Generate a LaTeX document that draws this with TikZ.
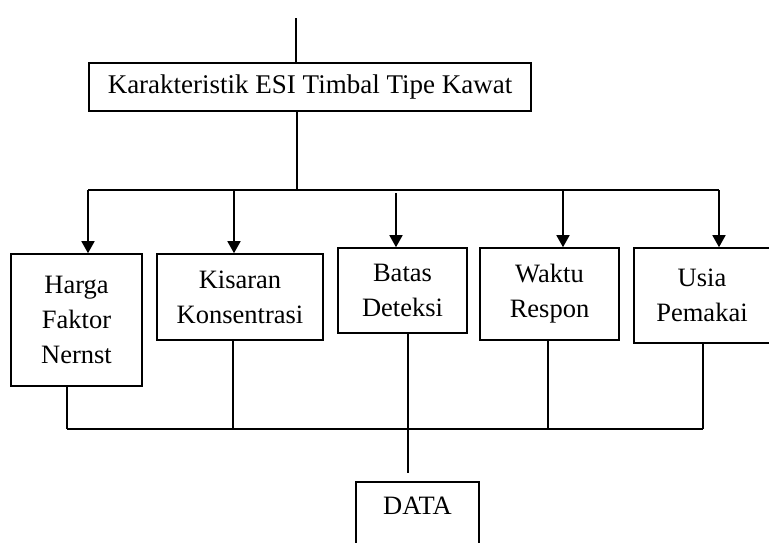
\documentclass[tikz,border=0pt]{standalone}
\usepackage{fontspec}
\setmainfont{Liberation Serif}
\usepackage{tikz}
\usetikzlibrary{arrows.meta, positioning}
\tikzset{>={Triangle[width=13pt,length=12pt]}}
\tikzset{box/.style={draw, line width=1.6pt, align=center, inner sep=0pt,
    font=\fontsize{26.5}{35}\selectfont}}

\begin{document}
\begin{tikzpicture}[x=1pt, y=-1pt, line width=1.6pt]
      \useasboundingbox (0,0) rectangle (769,542);

      \node[box, minimum width=442, minimum height=48, font=\fontsize{27}{32}\selectfont]
            (K0) at (310,87) {Karakteristik ESI Timbal Tipe Kawat};

      \node[box, minimum width=131, minimum height=132] (S1) at (76.5,320) {Harga\\Faktor\\Nernst};
      \node[box, minimum width=166, minimum height=86]  (S2) at (240,297)  {Kisaran\\Konsentrasi};
      \node[box, minimum width=129, minimum height=85]  (S3) at (402.5,290.5) {Batas\\Deteksi};
      \node[box, minimum width=139, minimum height=92]  (S4) at (549.5,294) {Waktu\\Respon};
      \node[box, minimum width=136, minimum height=95]  (S5) at (702,295.5) {Usia\\Pemakai};

      \node[box, anchor=north, minimum width=123, text height=26, text depth=40, inner ysep=7]
            (D) at (417.5,481) {DATA};

      % lines into the top box
      \coordinate (top) at (296,18);
      \draw (top) -- (top |- K0.north);
      \coordinate (split) at (297,190);
      \draw (split |- K0.south) -- (split);

      % upper bus and arrows
      \coordinate (a1) at (88,190);
      \coordinate (a2) at (234,190);
      \coordinate (a3) at (396,193);
      \coordinate (a4) at (563,190);
      \coordinate (a5) at (719,190);
      \draw (a1) -- (a5);
      \draw[->] (a1) -- (a1 |- S1.north);
      \draw[->] (a2) -- (a2 |- S2.north);
      \draw[->] (a3) -- (a3 |- S3.north);
      \draw[->] (a4) -- (a4 |- S4.north);
      \draw[->] (a5) -- (a5 |- S5.north);

      % lower bus
      \coordinate (c1) at (67,429);
      \coordinate (c2) at (233,429);
      \coordinate (c3) at (408,429);
      \coordinate (c4) at (548,429);
      \coordinate (c5) at (703,429);
      \coordinate (end) at (408,473);
      \draw (c1 |- S1.south) -- (c1);
      \draw (c2 |- S2.south) -- (c2);
      \draw (c3 |- S3.south) -- (end);
      \draw (c4 |- S4.south) -- (c4);
      \draw (c5 |- S5.south) -- (c5);
      \draw (c1) -- (c5);
\end{tikzpicture}
\end{document}
